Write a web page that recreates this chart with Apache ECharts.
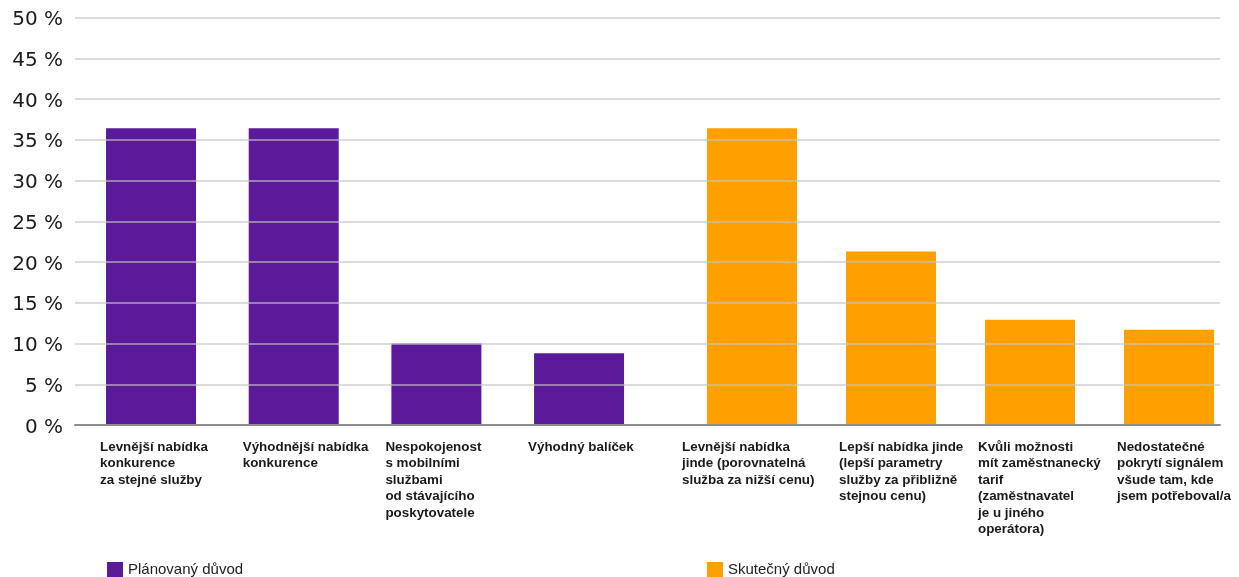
<!DOCTYPE html>
<html>
<head>
<meta charset="utf-8">
<script src="https://cdn.jsdelivr.net/npm/echarts@6/dist/echarts.min.js"></script>
<style>
  html, body { margin: 0; padding: 0; background: #fff; }
  #chart { width: 1239px; height: 577px; }
</style>
</head>
<body>
<div id="chart"></div>
<script>
// planned reasons (purple)
const plannedCategories = [
  'Levnější nabídka\nkonkurence\nza stejné služby',
  'Výhodnější nabídka\nkonkurence',
  'Nespokojenost\ns mobilními\nslužbami\nod stávajícího\nposkytovatele',
  'Výhodný balíček'
]
const plannedValues = [36.4, 36.4, 10.0, 8.8]

// actual reasons (orange)
const actualCategories = [
  'Levnější nabídka\njinde (porovnatelná\nslužba za nižší cenu)',
  'Lepší nabídka jinde\n(lepší parametry\nslužby za přibližně\nstejnou cenu)',
  'Kvůli možnosti\nmít zaměstnanecký\ntarif\n(zaměstnavatel\nje u jiného\noperátora)',
  'Nedostatečné\npokrytí signálem\nvšude tam, kde\njsem potřeboval/a'
]
const actualValues = [36.4, 21.3, 12.9, 11.7]

const seriesNames = ['Plánovaný důvod', 'Skutečný důvod']
const yTicks = { min: 0, max: 50, interval: 5 }

const PURPLE = '#5B1A99'
const ORANGE = '#FFA000'
const FONT = 'Liberation Sans'

const chart = echarts.init(document.getElementById('chart'))

const labelStyle = {
  align: 'left',
  verticalAlign: 'top',
  color: '#1a1a1a',
  fontFamily: FONT,
  fontWeight: 'bold',
  fontSize: 13.4,
  lineHeight: 16.5
}

// shift = left padding of label relative to band centre,
// nudge = extra shift for a single label (the first orange one sits further left)
function catAxis(gridIndex, cats, shift, nudge) {
  const data = cats.map((c, i) => {
    if (nudge && nudge[i] !== undefined) {
      return { value: c, textStyle: Object.assign({}, labelStyle, { padding: [0, 0, 0, shift + nudge[i]] }) }
    }
    return c
  })
  return {
    type: 'category',
    gridIndex: gridIndex,
    data: data,
    axisLine: { show: false },
    axisTick: { show: false },
    axisLabel: Object.assign({
      interval: 0,
      margin: 14,
      padding: [0, 0, 0, shift]
    }, labelStyle)
  }
}

function hiddenY(gridIndex) {
  return {
    type: 'value',
    gridIndex: gridIndex,
    min: yTicks.min,
    max: yTicks.max,
    interval: yTicks.interval,
    show: false
  }
}

function legendAt(name, left) {
  return {
    data: [name],
    left: left,
    top: 562,
    padding: 0,
    itemWidth: 16,
    itemHeight: 16,
    icon: 'rect',
    textStyle: { fontSize: 15, color: '#222', fontFamily: FONT }
  }
}

chart.setOption({
  animation: false,
  textStyle: { fontFamily: FONT },
  legend: [legendAt(seriesNames[0], 107), legendAt(seriesNames[1], 707)],
  grid: [
    { left: 75, right: 19, top: 17.5, bottom: 152 }, // background: y axis + gridlines
    { left: 79.7, width: 570.7, top: 17.5, bottom: 152 },
    { left: 682.5, width: 556, top: 17.5, bottom: 152 }
  ],
  xAxis: [
    {
      type: 'value',
      gridIndex: 0,
      min: 0,
      max: 1,
      z: 4,
      axisLine: { show: true, lineStyle: { color: '#8c8c8c', width: 2 } },
      axisTick: { show: false },
      axisLabel: { show: false },
      splitLine: { show: false }
    },
    catAxis(1, plannedCategories, -51),
    catAxis(2, actualCategories, -52, { 0: -18 })
  ],
  yAxis: [
    {
      type: 'value',
      gridIndex: 0,
      min: yTicks.min,
      max: yTicks.max,
      interval: yTicks.interval,
      z: 3,
      axisLine: { show: false },
      axisTick: { show: false },
      axisLabel: {
        margin: 12,
        color: '#1a1a1a',
        fontSize: 20,
        fontFamily: 'DejaVu Sans',
        verticalAlign: 'top',
        lineHeight: 5, // centres the glyphs a little below the gridline
        formatter: v => v + ' %'
      },
      splitLine: { lineStyle: { color: 'rgba(195,195,195,0.8)', width: 1.5 } }
    },
    hiddenY(1),
    hiddenY(2)
  ],
  series: [
    {
      name: seriesNames[0],
      type: 'bar',
      xAxisIndex: 1,
      yAxisIndex: 1,
      barWidth: 90,
      itemStyle: { color: PURPLE },
      data: plannedValues
    },
    {
      name: seriesNames[1],
      type: 'bar',
      xAxisIndex: 2,
      yAxisIndex: 2,
      barWidth: 90,
      itemStyle: { color: ORANGE },
      data: actualValues
    }
  ]
})
</script>
</body>
</html>
